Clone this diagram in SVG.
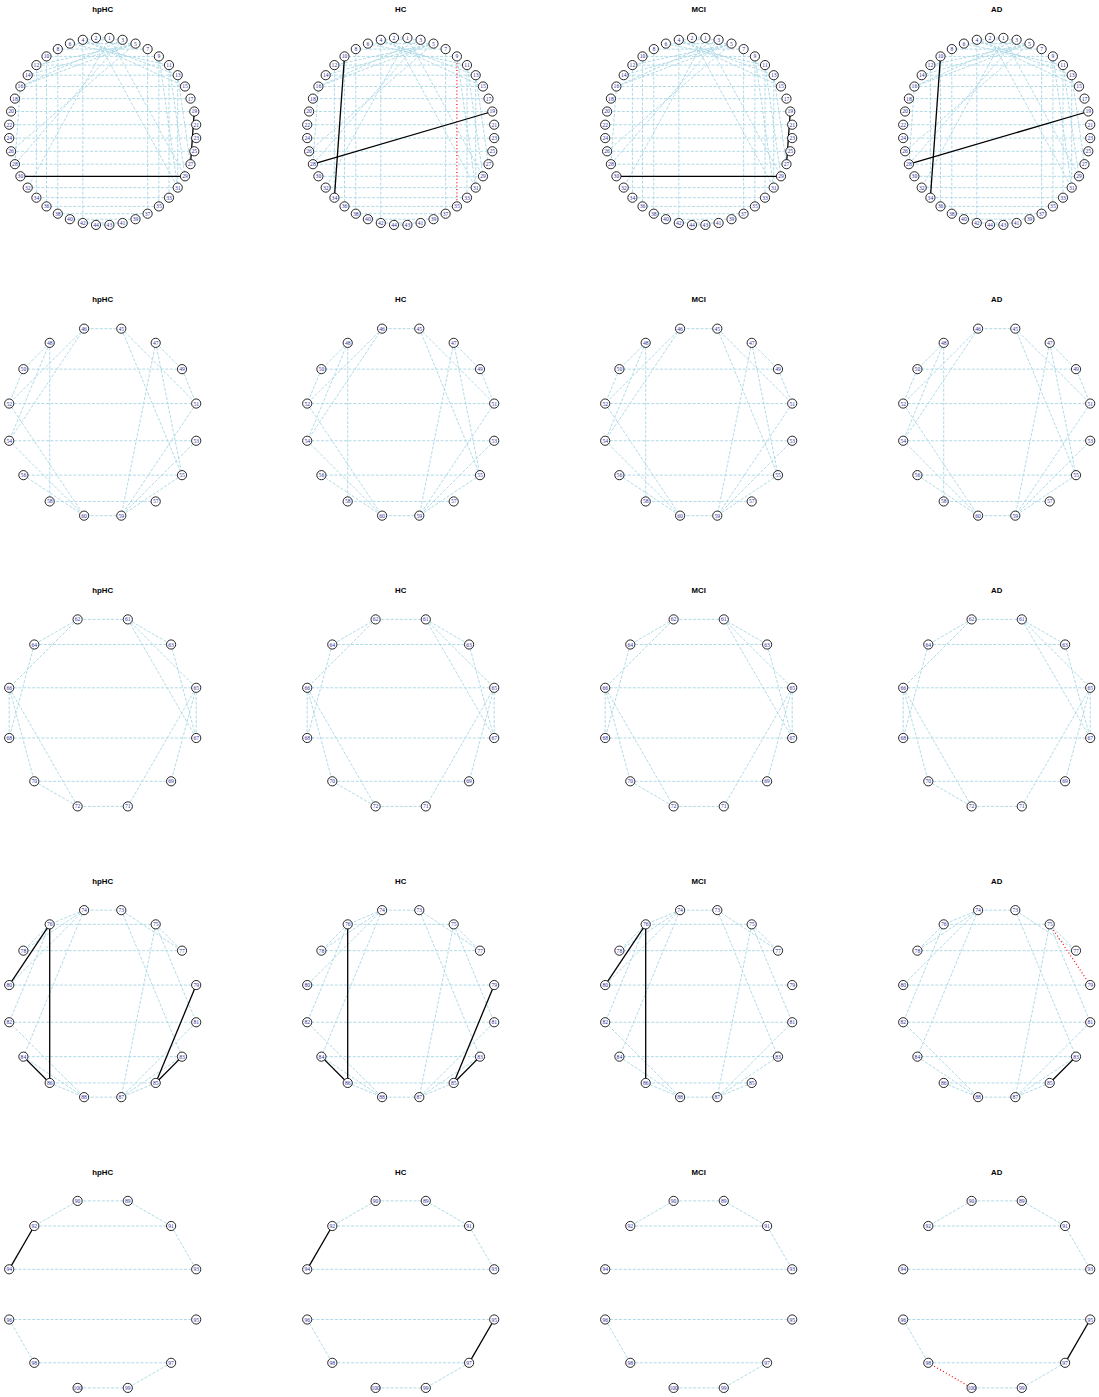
<svg xmlns="http://www.w3.org/2000/svg" width="1099" height="1397" viewBox="0 0 1099 1397">
<style>
.d line,line.d{stroke:#a7d6e4;stroke-width:0.9;stroke-dasharray:3 1.6;fill:none}
.b{stroke:#000;stroke-width:1.3}
.r{stroke:#f00;stroke-width:1.2;stroke-dasharray:1 2.4}
.n circle{fill:#fff;stroke:#000;stroke-width:0.85}
.n text{font-family:"Liberation Serif","DejaVu Serif",serif;font-size:5.6px;fill:#2b2b9a;text-anchor:middle;dominant-baseline:central}
.t{font-family:"Liberation Sans",Arial,sans-serif;font-weight:bold;font-size:7.8px;text-anchor:middle;fill:#000}
</style>
<rect width="1099" height="1397" fill="#fff"/>
<defs>
<g id="E1" class="d">
<line x1="6.7" y1="-93.5" x2="-6.7" y2="-93.5"/><line x1="19.9" y1="-91.6" x2="-19.9" y2="-91.6"/><line x1="32.8" y1="-87.8" x2="-32.8" y2="-87.8"/><line x1="44.9" y1="-82.3" x2="-44.9" y2="-82.3"/><line x1="56.2" y1="-75" x2="-56.2" y2="-75"/><line x1="66.3" y1="-66.3" x2="-66.3" y2="-66.3"/><line x1="75" y1="-56.2" x2="-75" y2="-56.2"/><line x1="82.3" y1="-44.9" x2="-82.3" y2="-44.9"/><line x1="87.8" y1="-32.8" x2="-87.8" y2="-32.8"/><line x1="91.6" y1="-19.9" x2="-91.6" y2="-19.9"/><line x1="93.5" y1="-6.7" x2="-93.5" y2="-6.7"/><line x1="93.5" y1="6.7" x2="-93.5" y2="6.7"/><line x1="91.6" y1="19.9" x2="-91.6" y2="19.9"/><line x1="87.8" y1="32.8" x2="-87.8" y2="32.8"/><line x1="75" y1="56.2" x2="-75" y2="56.2"/><line x1="66.3" y1="66.3" x2="-66.3" y2="66.3"/><line x1="56.2" y1="75" x2="-56.2" y2="75"/><line x1="44.9" y1="82.3" x2="-44.9" y2="82.3"/><line x1="32.8" y1="87.8" x2="-32.8" y2="87.8"/><line x1="19.9" y1="91.6" x2="-19.9" y2="91.6"/><line x1="6.7" y1="93.5" x2="-6.7" y2="93.5"/>
<line x1="-19.9" y1="-91.6" x2="-19.9" y2="91.6"/><line x1="-44.9" y1="-82.3" x2="-44.9" y2="82.3"/><line x1="-56.2" y1="-75" x2="-56.2" y2="75"/><line x1="-66.3" y1="-66.3" x2="-66.3" y2="66.3"/><line x1="44.9" y1="-82.3" x2="44.9" y2="82.3"/><line x1="66.3" y1="-66.3" x2="66.3" y2="66.3"/><line x1="75" y1="-56.2" x2="75" y2="56.2"/>
<line x1="-6.7" y1="-93.5" x2="75" y2="56.2"/><line x1="6.7" y1="-93.5" x2="82.3" y2="44.9"/><line x1="19.9" y1="-91.6" x2="-87.8" y2="32.8"/><line x1="32.8" y1="-87.8" x2="-91.6" y2="19.9"/><line x1="6.7" y1="-93.5" x2="-75" y2="56.2"/><line x1="19.9" y1="-91.6" x2="-82.3" y2="-44.9"/><line x1="32.8" y1="-87.8" x2="-82.3" y2="-44.9"/><line x1="32.8" y1="-87.8" x2="-75" y2="-56.2"/><line x1="32.8" y1="-87.8" x2="-66.3" y2="-66.3"/><line x1="-19.9" y1="-91.6" x2="75" y2="-56.2"/><line x1="-19.9" y1="-91.6" x2="82.3" y2="-44.9"/><line x1="-32.8" y1="-87.8" x2="66.3" y2="-66.3"/><line x1="56.2" y1="-75" x2="75" y2="56.2"/><line x1="66.3" y1="-66.3" x2="82.3" y2="44.9"/><line x1="75" y1="-56.2" x2="87.8" y2="32.8"/><line x1="-82.3" y1="-44.9" x2="-87.8" y2="32.8"/>
</g>
<g id="E2" class="d">
<line x1="18.6" y1="-93.5" x2="-18.6" y2="-93.5"/><line x1="79.3" y1="-53" x2="-79.3" y2="-53"/><line x1="93.5" y1="-18.6" x2="-93.5" y2="-18.6"/><line x1="93.5" y1="18.6" x2="-93.5" y2="18.6"/><line x1="79.3" y1="53" x2="-79.3" y2="53"/><line x1="53" y1="79.3" x2="-53" y2="79.3"/><line x1="18.6" y1="93.5" x2="-18.6" y2="93.5"/>
<line x1="18.6" y1="-93.5" x2="93.5" y2="-18.6"/><line x1="18.6" y1="-93.5" x2="79.3" y2="53"/><line x1="53" y1="-79.3" x2="79.3" y2="-53"/><line x1="53" y1="-79.3" x2="79.3" y2="53"/><line x1="53" y1="-79.3" x2="18.6" y2="93.5"/><line x1="79.3" y1="-53" x2="93.5" y2="-18.6"/><line x1="93.5" y1="-18.6" x2="18.6" y2="93.5"/><line x1="93.5" y1="18.6" x2="18.6" y2="93.5"/><line x1="79.3" y1="53" x2="18.6" y2="93.5"/>
<line x1="-18.6" y1="-93.5" x2="-93.5" y2="-18.6"/><line x1="-18.6" y1="-93.5" x2="-93.5" y2="18.6"/><line x1="-53" y1="-79.3" x2="-79.3" y2="-53"/><line x1="-53" y1="-79.3" x2="-93.5" y2="18.6"/><line x1="-53" y1="-79.3" x2="-53" y2="79.3"/><line x1="-79.3" y1="-53" x2="-93.5" y2="-18.6"/><line x1="-93.5" y1="-18.6" x2="-18.6" y2="93.5"/><line x1="-93.5" y1="18.6" x2="-18.6" y2="93.5"/><line x1="-79.3" y1="53" x2="-18.6" y2="93.5"/>
</g>
<g id="E3" class="d">
<line x1="25.1" y1="-93.5" x2="-25.1" y2="-93.5"/><line x1="25.1" y1="-93.5" x2="68.4" y2="-68.4"/><line x1="25.1" y1="-93.5" x2="93.5" y2="-25.1"/><line x1="25.1" y1="-93.5" x2="93.5" y2="25.1"/><line x1="-25.1" y1="-93.5" x2="-68.4" y2="-68.4"/><line x1="-25.1" y1="-93.5" x2="-93.5" y2="-25.1"/><line x1="68.4" y1="-68.4" x2="-68.4" y2="-68.4"/><line x1="68.4" y1="-68.4" x2="93.5" y2="25.1"/><line x1="-68.4" y1="-68.4" x2="-93.5" y2="25.1"/><line x1="93.5" y1="-25.1" x2="-93.5" y2="-25.1"/><line x1="93.5" y1="-25.1" x2="93.5" y2="25.1"/><line x1="93.5" y1="-25.1" x2="68.4" y2="68.4"/><line x1="93.5" y1="-25.1" x2="25.1" y2="93.5"/><line x1="-93.5" y1="-25.1" x2="-93.5" y2="25.1"/><line x1="-93.5" y1="-25.1" x2="-68.4" y2="68.4"/><line x1="-93.5" y1="-25.1" x2="-25.1" y2="93.5"/><line x1="93.5" y1="25.1" x2="-93.5" y2="25.1"/><line x1="68.4" y1="68.4" x2="-68.4" y2="68.4"/><line x1="-68.4" y1="68.4" x2="-25.1" y2="93.5"/><line x1="25.1" y1="93.5" x2="-25.1" y2="93.5"/>
</g>
<g id="E4" class="d">
<line x1="18.6" y1="-93.5" x2="-18.6" y2="-93.5"/><line x1="53" y1="-79.3" x2="-53" y2="-79.3"/><line x1="79.3" y1="-53" x2="-79.3" y2="-53"/><line x1="93.5" y1="-18.6" x2="-93.5" y2="-18.6"/><line x1="93.5" y1="18.6" x2="-93.5" y2="18.6"/><line x1="79.3" y1="53" x2="-79.3" y2="53"/><line x1="53" y1="79.3" x2="-53" y2="79.3"/><line x1="18.6" y1="93.5" x2="-18.6" y2="93.5"/>
<line x1="-18.6" y1="-93.5" x2="-53" y2="-79.3"/><line x1="-18.6" y1="-93.5" x2="-79.3" y2="-53"/><line x1="-18.6" y1="-93.5" x2="-93.5" y2="-18.6"/><line x1="-18.6" y1="-93.5" x2="-79.3" y2="53"/><line x1="-53" y1="-79.3" x2="-79.3" y2="-53"/><line x1="-53" y1="-79.3" x2="-93.5" y2="18.6"/>
<line x1="18.6" y1="-93.5" x2="79.3" y2="-53"/><line x1="53" y1="-79.3" x2="79.3" y2="-53"/><line x1="18.6" y1="-93.5" x2="79.3" y2="53"/><line x1="53" y1="-79.3" x2="18.6" y2="93.5"/><line x1="53" y1="-79.3" x2="93.5" y2="18.6"/><line x1="93.5" y1="18.6" x2="18.6" y2="93.5"/><line x1="79.3" y1="53" x2="18.6" y2="93.5"/><line x1="53" y1="79.3" x2="18.6" y2="93.5"/>
<line x1="-93.5" y1="18.6" x2="-18.6" y2="93.5"/><line x1="-79.3" y1="53" x2="-18.6" y2="93.5"/><line x1="-53" y1="79.3" x2="-18.6" y2="93.5"/>
</g>
<g id="E5" class="d">
<line x1="25.1" y1="-93.5" x2="-25.1" y2="-93.5"/><line x1="25.1" y1="-93.5" x2="68.4" y2="-68.4"/><line x1="-25.1" y1="-93.5" x2="-68.4" y2="-68.4"/><line x1="68.4" y1="-68.4" x2="-68.4" y2="-68.4"/><line x1="68.4" y1="-68.4" x2="93.5" y2="-25.1"/><line x1="93.5" y1="-25.1" x2="-93.5" y2="-25.1"/><line x1="93.5" y1="25.1" x2="-93.5" y2="25.1"/><line x1="-93.5" y1="25.1" x2="-68.4" y2="68.4"/><line x1="68.4" y1="68.4" x2="-68.4" y2="68.4"/><line x1="68.4" y1="68.4" x2="25.1" y2="93.5"/><line x1="25.1" y1="93.5" x2="-25.1" y2="93.5"/>
</g>
</defs>

<!-- ROW 1 -->
<g id="p11" transform="translate(102.7,131.4)">
<text class="t" y="-119.8">hpHC</text>
<g id="p11-edges"><use href="#E1"/><line class="d" x1="56.2" y1="-75" x2="56.2" y2="75"/><line class="b" x1="82.3" y1="44.9" x2="-82.3" y2="44.9"/><line class="b" x1="91.6" y1="-19.9" x2="87.8" y2="32.8"/></g>
<g class="n">
<g id="p11-1" transform="translate(6.7,-93.5)"><circle r="4.6"/><text>1</text></g><g id="p11-2" transform="translate(-6.7,-93.5)"><circle r="4.6"/><text>2</text></g><g id="p11-3" transform="translate(19.9,-91.6)"><circle r="4.6"/><text>3</text></g><g id="p11-4" transform="translate(-19.9,-91.6)"><circle r="4.6"/><text>4</text></g><g id="p11-5" transform="translate(32.8,-87.8)"><circle r="4.6"/><text>5</text></g><g id="p11-6" transform="translate(-32.8,-87.8)"><circle r="4.6"/><text>6</text></g><g id="p11-7" transform="translate(44.9,-82.3)"><circle r="4.6"/><text>7</text></g><g id="p11-8" transform="translate(-44.9,-82.3)"><circle r="4.6"/><text>8</text></g><g id="p11-9" transform="translate(56.2,-75)"><circle r="4.6"/><text>9</text></g><g id="p11-10" transform="translate(-56.2,-75)"><circle r="4.6"/><text>10</text></g><g id="p11-11" transform="translate(66.3,-66.3)"><circle r="4.6"/><text>11</text></g><g id="p11-12" transform="translate(-66.3,-66.3)"><circle r="4.6"/><text>12</text></g><g id="p11-13" transform="translate(75,-56.2)"><circle r="4.6"/><text>13</text></g><g id="p11-14" transform="translate(-75,-56.2)"><circle r="4.6"/><text>14</text></g><g id="p11-15" transform="translate(82.3,-44.9)"><circle r="4.6"/><text>15</text></g><g id="p11-16" transform="translate(-82.3,-44.9)"><circle r="4.6"/><text>16</text></g><g id="p11-17" transform="translate(87.8,-32.8)"><circle r="4.6"/><text>17</text></g><g id="p11-18" transform="translate(-87.8,-32.8)"><circle r="4.6"/><text>18</text></g><g id="p11-19" transform="translate(91.6,-19.9)"><circle r="4.6"/><text>19</text></g><g id="p11-20" transform="translate(-91.6,-19.9)"><circle r="4.6"/><text>20</text></g><g id="p11-21" transform="translate(93.5,-6.7)"><circle r="4.6"/><text>21</text></g><g id="p11-22" transform="translate(-93.5,-6.7)"><circle r="4.6"/><text>22</text></g><g id="p11-23" transform="translate(93.5,6.7)"><circle r="4.6"/><text>23</text></g><g id="p11-24" transform="translate(-93.5,6.7)"><circle r="4.6"/><text>24</text></g><g id="p11-25" transform="translate(91.6,19.9)"><circle r="4.6"/><text>25</text></g><g id="p11-26" transform="translate(-91.6,19.9)"><circle r="4.6"/><text>26</text></g><g id="p11-27" transform="translate(87.8,32.8)"><circle r="4.6"/><text>27</text></g><g id="p11-28" transform="translate(-87.8,32.8)"><circle r="4.6"/><text>28</text></g><g id="p11-29" transform="translate(82.3,44.9)"><circle r="4.6"/><text>29</text></g><g id="p11-30" transform="translate(-82.3,44.9)"><circle r="4.6"/><text>30</text></g><g id="p11-31" transform="translate(75,56.2)"><circle r="4.6"/><text>31</text></g><g id="p11-32" transform="translate(-75,56.2)"><circle r="4.6"/><text>32</text></g><g id="p11-33" transform="translate(66.3,66.3)"><circle r="4.6"/><text>33</text></g><g id="p11-34" transform="translate(-66.3,66.3)"><circle r="4.6"/><text>34</text></g><g id="p11-35" transform="translate(56.2,75)"><circle r="4.6"/><text>35</text></g><g id="p11-36" transform="translate(-56.2,75)"><circle r="4.6"/><text>36</text></g><g id="p11-37" transform="translate(44.9,82.3)"><circle r="4.6"/><text>37</text></g><g id="p11-38" transform="translate(-44.9,82.3)"><circle r="4.6"/><text>38</text></g><g id="p11-39" transform="translate(32.8,87.8)"><circle r="4.6"/><text>39</text></g><g id="p11-40" transform="translate(-32.8,87.8)"><circle r="4.6"/><text>40</text></g><g id="p11-41" transform="translate(19.9,91.6)"><circle r="4.6"/><text>41</text></g><g id="p11-42" transform="translate(-19.9,91.6)"><circle r="4.6"/><text>42</text></g><g id="p11-43" transform="translate(6.7,93.5)"><circle r="4.6"/><text>43</text></g><g id="p11-44" transform="translate(-6.7,93.5)"><circle r="4.6"/><text>44</text></g>
</g></g>

<g id="p12" transform="translate(400.7,131.4)">
<text class="t" y="-119.8">HC</text>
<g id="p12-edges"><use href="#E1"/><line class="d" x1="82.3" y1="44.9" x2="-82.3" y2="44.9"/><line class="r" x1="56.2" y1="-75" x2="56.2" y2="75"/><line class="b" x1="-56.2" y1="-75" x2="-66.3" y2="66.3"/><line class="b" x1="91.6" y1="-19.9" x2="-87.8" y2="32.8"/></g>
<g class="n">
<g id="p12-1" transform="translate(6.7,-93.5)"><circle r="4.6"/><text>1</text></g><g id="p12-2" transform="translate(-6.7,-93.5)"><circle r="4.6"/><text>2</text></g><g id="p12-3" transform="translate(19.9,-91.6)"><circle r="4.6"/><text>3</text></g><g id="p12-4" transform="translate(-19.9,-91.6)"><circle r="4.6"/><text>4</text></g><g id="p12-5" transform="translate(32.8,-87.8)"><circle r="4.6"/><text>5</text></g><g id="p12-6" transform="translate(-32.8,-87.8)"><circle r="4.6"/><text>6</text></g><g id="p12-7" transform="translate(44.9,-82.3)"><circle r="4.6"/><text>7</text></g><g id="p12-8" transform="translate(-44.9,-82.3)"><circle r="4.6"/><text>8</text></g><g id="p12-9" transform="translate(56.2,-75)"><circle r="4.6"/><text>9</text></g><g id="p12-10" transform="translate(-56.2,-75)"><circle r="4.6"/><text>10</text></g><g id="p12-11" transform="translate(66.3,-66.3)"><circle r="4.6"/><text>11</text></g><g id="p12-12" transform="translate(-66.3,-66.3)"><circle r="4.6"/><text>12</text></g><g id="p12-13" transform="translate(75,-56.2)"><circle r="4.6"/><text>13</text></g><g id="p12-14" transform="translate(-75,-56.2)"><circle r="4.6"/><text>14</text></g><g id="p12-15" transform="translate(82.3,-44.9)"><circle r="4.6"/><text>15</text></g><g id="p12-16" transform="translate(-82.3,-44.9)"><circle r="4.6"/><text>16</text></g><g id="p12-17" transform="translate(87.8,-32.8)"><circle r="4.6"/><text>17</text></g><g id="p12-18" transform="translate(-87.8,-32.8)"><circle r="4.6"/><text>18</text></g><g id="p12-19" transform="translate(91.6,-19.9)"><circle r="4.6"/><text>19</text></g><g id="p12-20" transform="translate(-91.6,-19.9)"><circle r="4.6"/><text>20</text></g><g id="p12-21" transform="translate(93.5,-6.7)"><circle r="4.6"/><text>21</text></g><g id="p12-22" transform="translate(-93.5,-6.7)"><circle r="4.6"/><text>22</text></g><g id="p12-23" transform="translate(93.5,6.7)"><circle r="4.6"/><text>23</text></g><g id="p12-24" transform="translate(-93.5,6.7)"><circle r="4.6"/><text>24</text></g><g id="p12-25" transform="translate(91.6,19.9)"><circle r="4.6"/><text>25</text></g><g id="p12-26" transform="translate(-91.6,19.9)"><circle r="4.6"/><text>26</text></g><g id="p12-27" transform="translate(87.8,32.8)"><circle r="4.6"/><text>27</text></g><g id="p12-28" transform="translate(-87.8,32.8)"><circle r="4.6"/><text>28</text></g><g id="p12-29" transform="translate(82.3,44.9)"><circle r="4.6"/><text>29</text></g><g id="p12-30" transform="translate(-82.3,44.9)"><circle r="4.6"/><text>30</text></g><g id="p12-31" transform="translate(75,56.2)"><circle r="4.6"/><text>31</text></g><g id="p12-32" transform="translate(-75,56.2)"><circle r="4.6"/><text>32</text></g><g id="p12-33" transform="translate(66.3,66.3)"><circle r="4.6"/><text>33</text></g><g id="p12-34" transform="translate(-66.3,66.3)"><circle r="4.6"/><text>34</text></g><g id="p12-35" transform="translate(56.2,75)"><circle r="4.6"/><text>35</text></g><g id="p12-36" transform="translate(-56.2,75)"><circle r="4.6"/><text>36</text></g><g id="p12-37" transform="translate(44.9,82.3)"><circle r="4.6"/><text>37</text></g><g id="p12-38" transform="translate(-44.9,82.3)"><circle r="4.6"/><text>38</text></g><g id="p12-39" transform="translate(32.8,87.8)"><circle r="4.6"/><text>39</text></g><g id="p12-40" transform="translate(-32.8,87.8)"><circle r="4.6"/><text>40</text></g><g id="p12-41" transform="translate(19.9,91.6)"><circle r="4.6"/><text>41</text></g><g id="p12-42" transform="translate(-19.9,91.6)"><circle r="4.6"/><text>42</text></g><g id="p12-43" transform="translate(6.7,93.5)"><circle r="4.6"/><text>43</text></g><g id="p12-44" transform="translate(-6.7,93.5)"><circle r="4.6"/><text>44</text></g>
</g></g>

<g id="p13" transform="translate(698.7,131.4)">
<text class="t" y="-119.8">MCI</text>
<g id="p13-edges"><use href="#E1"/><line class="d" x1="56.2" y1="-75" x2="56.2" y2="75"/><line class="b" x1="82.3" y1="44.9" x2="-82.3" y2="44.9"/><line class="b" x1="91.6" y1="-19.9" x2="87.8" y2="32.8"/></g>
<g class="n">
<g id="p13-1" transform="translate(6.7,-93.5)"><circle r="4.6"/><text>1</text></g><g id="p13-2" transform="translate(-6.7,-93.5)"><circle r="4.6"/><text>2</text></g><g id="p13-3" transform="translate(19.9,-91.6)"><circle r="4.6"/><text>3</text></g><g id="p13-4" transform="translate(-19.9,-91.6)"><circle r="4.6"/><text>4</text></g><g id="p13-5" transform="translate(32.8,-87.8)"><circle r="4.6"/><text>5</text></g><g id="p13-6" transform="translate(-32.8,-87.8)"><circle r="4.6"/><text>6</text></g><g id="p13-7" transform="translate(44.9,-82.3)"><circle r="4.6"/><text>7</text></g><g id="p13-8" transform="translate(-44.9,-82.3)"><circle r="4.6"/><text>8</text></g><g id="p13-9" transform="translate(56.2,-75)"><circle r="4.6"/><text>9</text></g><g id="p13-10" transform="translate(-56.2,-75)"><circle r="4.6"/><text>10</text></g><g id="p13-11" transform="translate(66.3,-66.3)"><circle r="4.6"/><text>11</text></g><g id="p13-12" transform="translate(-66.3,-66.3)"><circle r="4.6"/><text>12</text></g><g id="p13-13" transform="translate(75,-56.2)"><circle r="4.6"/><text>13</text></g><g id="p13-14" transform="translate(-75,-56.2)"><circle r="4.6"/><text>14</text></g><g id="p13-15" transform="translate(82.3,-44.9)"><circle r="4.6"/><text>15</text></g><g id="p13-16" transform="translate(-82.3,-44.9)"><circle r="4.6"/><text>16</text></g><g id="p13-17" transform="translate(87.8,-32.8)"><circle r="4.6"/><text>17</text></g><g id="p13-18" transform="translate(-87.8,-32.8)"><circle r="4.6"/><text>18</text></g><g id="p13-19" transform="translate(91.6,-19.9)"><circle r="4.6"/><text>19</text></g><g id="p13-20" transform="translate(-91.6,-19.9)"><circle r="4.6"/><text>20</text></g><g id="p13-21" transform="translate(93.5,-6.7)"><circle r="4.6"/><text>21</text></g><g id="p13-22" transform="translate(-93.5,-6.7)"><circle r="4.6"/><text>22</text></g><g id="p13-23" transform="translate(93.5,6.7)"><circle r="4.6"/><text>23</text></g><g id="p13-24" transform="translate(-93.5,6.7)"><circle r="4.6"/><text>24</text></g><g id="p13-25" transform="translate(91.6,19.9)"><circle r="4.6"/><text>25</text></g><g id="p13-26" transform="translate(-91.6,19.9)"><circle r="4.6"/><text>26</text></g><g id="p13-27" transform="translate(87.8,32.8)"><circle r="4.6"/><text>27</text></g><g id="p13-28" transform="translate(-87.8,32.8)"><circle r="4.6"/><text>28</text></g><g id="p13-29" transform="translate(82.3,44.9)"><circle r="4.6"/><text>29</text></g><g id="p13-30" transform="translate(-82.3,44.9)"><circle r="4.6"/><text>30</text></g><g id="p13-31" transform="translate(75,56.2)"><circle r="4.6"/><text>31</text></g><g id="p13-32" transform="translate(-75,56.2)"><circle r="4.6"/><text>32</text></g><g id="p13-33" transform="translate(66.3,66.3)"><circle r="4.6"/><text>33</text></g><g id="p13-34" transform="translate(-66.3,66.3)"><circle r="4.6"/><text>34</text></g><g id="p13-35" transform="translate(56.2,75)"><circle r="4.6"/><text>35</text></g><g id="p13-36" transform="translate(-56.2,75)"><circle r="4.6"/><text>36</text></g><g id="p13-37" transform="translate(44.9,82.3)"><circle r="4.6"/><text>37</text></g><g id="p13-38" transform="translate(-44.9,82.3)"><circle r="4.6"/><text>38</text></g><g id="p13-39" transform="translate(32.8,87.8)"><circle r="4.6"/><text>39</text></g><g id="p13-40" transform="translate(-32.8,87.8)"><circle r="4.6"/><text>40</text></g><g id="p13-41" transform="translate(19.9,91.6)"><circle r="4.6"/><text>41</text></g><g id="p13-42" transform="translate(-19.9,91.6)"><circle r="4.6"/><text>42</text></g><g id="p13-43" transform="translate(6.7,93.5)"><circle r="4.6"/><text>43</text></g><g id="p13-44" transform="translate(-6.7,93.5)"><circle r="4.6"/><text>44</text></g>
</g></g>

<g id="p14" transform="translate(996.7,131.4)">
<text class="t" y="-119.8">AD</text>
<g id="p14-edges"><use href="#E1"/><line class="d" x1="56.2" y1="-75" x2="56.2" y2="75"/><line class="d" x1="82.3" y1="44.9" x2="-82.3" y2="44.9"/><line class="b" x1="-56.2" y1="-75" x2="-66.3" y2="66.3"/><line class="b" x1="91.6" y1="-19.9" x2="-87.8" y2="32.8"/></g>
<g class="n">
<g id="p14-1" transform="translate(6.7,-93.5)"><circle r="4.6"/><text>1</text></g><g id="p14-2" transform="translate(-6.7,-93.5)"><circle r="4.6"/><text>2</text></g><g id="p14-3" transform="translate(19.9,-91.6)"><circle r="4.6"/><text>3</text></g><g id="p14-4" transform="translate(-19.9,-91.6)"><circle r="4.6"/><text>4</text></g><g id="p14-5" transform="translate(32.8,-87.8)"><circle r="4.6"/><text>5</text></g><g id="p14-6" transform="translate(-32.8,-87.8)"><circle r="4.6"/><text>6</text></g><g id="p14-7" transform="translate(44.9,-82.3)"><circle r="4.6"/><text>7</text></g><g id="p14-8" transform="translate(-44.9,-82.3)"><circle r="4.6"/><text>8</text></g><g id="p14-9" transform="translate(56.2,-75)"><circle r="4.6"/><text>9</text></g><g id="p14-10" transform="translate(-56.2,-75)"><circle r="4.6"/><text>10</text></g><g id="p14-11" transform="translate(66.3,-66.3)"><circle r="4.6"/><text>11</text></g><g id="p14-12" transform="translate(-66.3,-66.3)"><circle r="4.6"/><text>12</text></g><g id="p14-13" transform="translate(75,-56.2)"><circle r="4.6"/><text>13</text></g><g id="p14-14" transform="translate(-75,-56.2)"><circle r="4.6"/><text>14</text></g><g id="p14-15" transform="translate(82.3,-44.9)"><circle r="4.6"/><text>15</text></g><g id="p14-16" transform="translate(-82.3,-44.9)"><circle r="4.6"/><text>16</text></g><g id="p14-17" transform="translate(87.8,-32.8)"><circle r="4.6"/><text>17</text></g><g id="p14-18" transform="translate(-87.8,-32.8)"><circle r="4.6"/><text>18</text></g><g id="p14-19" transform="translate(91.6,-19.9)"><circle r="4.6"/><text>19</text></g><g id="p14-20" transform="translate(-91.6,-19.9)"><circle r="4.6"/><text>20</text></g><g id="p14-21" transform="translate(93.5,-6.7)"><circle r="4.6"/><text>21</text></g><g id="p14-22" transform="translate(-93.5,-6.7)"><circle r="4.6"/><text>22</text></g><g id="p14-23" transform="translate(93.5,6.7)"><circle r="4.6"/><text>23</text></g><g id="p14-24" transform="translate(-93.5,6.7)"><circle r="4.6"/><text>24</text></g><g id="p14-25" transform="translate(91.6,19.9)"><circle r="4.6"/><text>25</text></g><g id="p14-26" transform="translate(-91.6,19.9)"><circle r="4.6"/><text>26</text></g><g id="p14-27" transform="translate(87.8,32.8)"><circle r="4.6"/><text>27</text></g><g id="p14-28" transform="translate(-87.8,32.8)"><circle r="4.6"/><text>28</text></g><g id="p14-29" transform="translate(82.3,44.9)"><circle r="4.6"/><text>29</text></g><g id="p14-30" transform="translate(-82.3,44.9)"><circle r="4.6"/><text>30</text></g><g id="p14-31" transform="translate(75,56.2)"><circle r="4.6"/><text>31</text></g><g id="p14-32" transform="translate(-75,56.2)"><circle r="4.6"/><text>32</text></g><g id="p14-33" transform="translate(66.3,66.3)"><circle r="4.6"/><text>33</text></g><g id="p14-34" transform="translate(-66.3,66.3)"><circle r="4.6"/><text>34</text></g><g id="p14-35" transform="translate(56.2,75)"><circle r="4.6"/><text>35</text></g><g id="p14-36" transform="translate(-56.2,75)"><circle r="4.6"/><text>36</text></g><g id="p14-37" transform="translate(44.9,82.3)"><circle r="4.6"/><text>37</text></g><g id="p14-38" transform="translate(-44.9,82.3)"><circle r="4.6"/><text>38</text></g><g id="p14-39" transform="translate(32.8,87.8)"><circle r="4.6"/><text>39</text></g><g id="p14-40" transform="translate(-32.8,87.8)"><circle r="4.6"/><text>40</text></g><g id="p14-41" transform="translate(19.9,91.6)"><circle r="4.6"/><text>41</text></g><g id="p14-42" transform="translate(-19.9,91.6)"><circle r="4.6"/><text>42</text></g><g id="p14-43" transform="translate(6.7,93.5)"><circle r="4.6"/><text>43</text></g><g id="p14-44" transform="translate(-6.7,93.5)"><circle r="4.6"/><text>44</text></g>
</g></g>

<!-- ROW 2 -->
<g id="p21" transform="translate(102.7,422.15)">
<text class="t" y="-119.8">hpHC</text>
<g id="p21-edges"><use href="#E2"/></g>
<g class="n">
<g id="p21-45" transform="translate(18.6,-93.5)"><circle r="4.6"/><text>45</text></g><g id="p21-46" transform="translate(-18.6,-93.5)"><circle r="4.6"/><text>46</text></g><g id="p21-47" transform="translate(53,-79.3)"><circle r="4.6"/><text>47</text></g><g id="p21-48" transform="translate(-53,-79.3)"><circle r="4.6"/><text>48</text></g><g id="p21-49" transform="translate(79.3,-53)"><circle r="4.6"/><text>49</text></g><g id="p21-50" transform="translate(-79.3,-53)"><circle r="4.6"/><text>50</text></g><g id="p21-51" transform="translate(93.5,-18.6)"><circle r="4.6"/><text>51</text></g><g id="p21-52" transform="translate(-93.5,-18.6)"><circle r="4.6"/><text>52</text></g><g id="p21-53" transform="translate(93.5,18.6)"><circle r="4.6"/><text>53</text></g><g id="p21-54" transform="translate(-93.5,18.6)"><circle r="4.6"/><text>54</text></g><g id="p21-55" transform="translate(79.3,53)"><circle r="4.6"/><text>55</text></g><g id="p21-56" transform="translate(-79.3,53)"><circle r="4.6"/><text>56</text></g><g id="p21-57" transform="translate(53,79.3)"><circle r="4.6"/><text>57</text></g><g id="p21-58" transform="translate(-53,79.3)"><circle r="4.6"/><text>58</text></g><g id="p21-59" transform="translate(18.6,93.5)"><circle r="4.6"/><text>59</text></g><g id="p21-60" transform="translate(-18.6,93.5)"><circle r="4.6"/><text>60</text></g>
</g></g>
<g id="p22" transform="translate(400.7,422.15)">
<text class="t" y="-119.8">HC</text>
<g id="p22-edges"><use href="#E2"/></g>
<g class="n">
<g id="p22-45" transform="translate(18.6,-93.5)"><circle r="4.6"/><text>45</text></g><g id="p22-46" transform="translate(-18.6,-93.5)"><circle r="4.6"/><text>46</text></g><g id="p22-47" transform="translate(53,-79.3)"><circle r="4.6"/><text>47</text></g><g id="p22-48" transform="translate(-53,-79.3)"><circle r="4.6"/><text>48</text></g><g id="p22-49" transform="translate(79.3,-53)"><circle r="4.6"/><text>49</text></g><g id="p22-50" transform="translate(-79.3,-53)"><circle r="4.6"/><text>50</text></g><g id="p22-51" transform="translate(93.5,-18.6)"><circle r="4.6"/><text>51</text></g><g id="p22-52" transform="translate(-93.5,-18.6)"><circle r="4.6"/><text>52</text></g><g id="p22-53" transform="translate(93.5,18.6)"><circle r="4.6"/><text>53</text></g><g id="p22-54" transform="translate(-93.5,18.6)"><circle r="4.6"/><text>54</text></g><g id="p22-55" transform="translate(79.3,53)"><circle r="4.6"/><text>55</text></g><g id="p22-56" transform="translate(-79.3,53)"><circle r="4.6"/><text>56</text></g><g id="p22-57" transform="translate(53,79.3)"><circle r="4.6"/><text>57</text></g><g id="p22-58" transform="translate(-53,79.3)"><circle r="4.6"/><text>58</text></g><g id="p22-59" transform="translate(18.6,93.5)"><circle r="4.6"/><text>59</text></g><g id="p22-60" transform="translate(-18.6,93.5)"><circle r="4.6"/><text>60</text></g>
</g></g>
<g id="p23" transform="translate(698.7,422.15)">
<text class="t" y="-119.8">MCI</text>
<g id="p23-edges"><use href="#E2"/></g>
<g class="n">
<g id="p23-45" transform="translate(18.6,-93.5)"><circle r="4.6"/><text>45</text></g><g id="p23-46" transform="translate(-18.6,-93.5)"><circle r="4.6"/><text>46</text></g><g id="p23-47" transform="translate(53,-79.3)"><circle r="4.6"/><text>47</text></g><g id="p23-48" transform="translate(-53,-79.3)"><circle r="4.6"/><text>48</text></g><g id="p23-49" transform="translate(79.3,-53)"><circle r="4.6"/><text>49</text></g><g id="p23-50" transform="translate(-79.3,-53)"><circle r="4.6"/><text>50</text></g><g id="p23-51" transform="translate(93.5,-18.6)"><circle r="4.6"/><text>51</text></g><g id="p23-52" transform="translate(-93.5,-18.6)"><circle r="4.6"/><text>52</text></g><g id="p23-53" transform="translate(93.5,18.6)"><circle r="4.6"/><text>53</text></g><g id="p23-54" transform="translate(-93.5,18.6)"><circle r="4.6"/><text>54</text></g><g id="p23-55" transform="translate(79.3,53)"><circle r="4.6"/><text>55</text></g><g id="p23-56" transform="translate(-79.3,53)"><circle r="4.6"/><text>56</text></g><g id="p23-57" transform="translate(53,79.3)"><circle r="4.6"/><text>57</text></g><g id="p23-58" transform="translate(-53,79.3)"><circle r="4.6"/><text>58</text></g><g id="p23-59" transform="translate(18.6,93.5)"><circle r="4.6"/><text>59</text></g><g id="p23-60" transform="translate(-18.6,93.5)"><circle r="4.6"/><text>60</text></g>
</g></g>
<g id="p24" transform="translate(996.7,422.15)">
<text class="t" y="-119.8">AD</text>
<g id="p24-edges"><use href="#E2"/></g>
<g class="n">
<g id="p24-45" transform="translate(18.6,-93.5)"><circle r="4.6"/><text>45</text></g><g id="p24-46" transform="translate(-18.6,-93.5)"><circle r="4.6"/><text>46</text></g><g id="p24-47" transform="translate(53,-79.3)"><circle r="4.6"/><text>47</text></g><g id="p24-48" transform="translate(-53,-79.3)"><circle r="4.6"/><text>48</text></g><g id="p24-49" transform="translate(79.3,-53)"><circle r="4.6"/><text>49</text></g><g id="p24-50" transform="translate(-79.3,-53)"><circle r="4.6"/><text>50</text></g><g id="p24-51" transform="translate(93.5,-18.6)"><circle r="4.6"/><text>51</text></g><g id="p24-52" transform="translate(-93.5,-18.6)"><circle r="4.6"/><text>52</text></g><g id="p24-53" transform="translate(93.5,18.6)"><circle r="4.6"/><text>53</text></g><g id="p24-54" transform="translate(-93.5,18.6)"><circle r="4.6"/><text>54</text></g><g id="p24-55" transform="translate(79.3,53)"><circle r="4.6"/><text>55</text></g><g id="p24-56" transform="translate(-79.3,53)"><circle r="4.6"/><text>56</text></g><g id="p24-57" transform="translate(53,79.3)"><circle r="4.6"/><text>57</text></g><g id="p24-58" transform="translate(-53,79.3)"><circle r="4.6"/><text>58</text></g><g id="p24-59" transform="translate(18.6,93.5)"><circle r="4.6"/><text>59</text></g><g id="p24-60" transform="translate(-18.6,93.5)"><circle r="4.6"/><text>60</text></g>
</g></g>

<!-- ROW 3 -->
<g id="p31" transform="translate(102.7,712.9)">
<text class="t" y="-119.8">hpHC</text>
<g id="p31-edges"><use href="#E3"/></g>
<g class="n">
<g id="p31-61" transform="translate(25.1,-93.5)"><circle r="4.6"/><text>61</text></g><g id="p31-62" transform="translate(-25.1,-93.5)"><circle r="4.6"/><text>62</text></g><g id="p31-63" transform="translate(68.4,-68.4)"><circle r="4.6"/><text>63</text></g><g id="p31-64" transform="translate(-68.4,-68.4)"><circle r="4.6"/><text>64</text></g><g id="p31-65" transform="translate(93.5,-25.1)"><circle r="4.6"/><text>65</text></g><g id="p31-66" transform="translate(-93.5,-25.1)"><circle r="4.6"/><text>66</text></g><g id="p31-67" transform="translate(93.5,25.1)"><circle r="4.6"/><text>67</text></g><g id="p31-68" transform="translate(-93.5,25.1)"><circle r="4.6"/><text>68</text></g><g id="p31-69" transform="translate(68.4,68.4)"><circle r="4.6"/><text>69</text></g><g id="p31-70" transform="translate(-68.4,68.4)"><circle r="4.6"/><text>70</text></g><g id="p31-71" transform="translate(25.1,93.5)"><circle r="4.6"/><text>71</text></g><g id="p31-72" transform="translate(-25.1,93.5)"><circle r="4.6"/><text>72</text></g>
</g></g>
<g id="p32" transform="translate(400.7,712.9)">
<text class="t" y="-119.8">HC</text>
<g id="p32-edges"><use href="#E3"/></g>
<g class="n">
<g id="p32-61" transform="translate(25.1,-93.5)"><circle r="4.6"/><text>61</text></g><g id="p32-62" transform="translate(-25.1,-93.5)"><circle r="4.6"/><text>62</text></g><g id="p32-63" transform="translate(68.4,-68.4)"><circle r="4.6"/><text>63</text></g><g id="p32-64" transform="translate(-68.4,-68.4)"><circle r="4.6"/><text>64</text></g><g id="p32-65" transform="translate(93.5,-25.1)"><circle r="4.6"/><text>65</text></g><g id="p32-66" transform="translate(-93.5,-25.1)"><circle r="4.6"/><text>66</text></g><g id="p32-67" transform="translate(93.5,25.1)"><circle r="4.6"/><text>67</text></g><g id="p32-68" transform="translate(-93.5,25.1)"><circle r="4.6"/><text>68</text></g><g id="p32-69" transform="translate(68.4,68.4)"><circle r="4.6"/><text>69</text></g><g id="p32-70" transform="translate(-68.4,68.4)"><circle r="4.6"/><text>70</text></g><g id="p32-71" transform="translate(25.1,93.5)"><circle r="4.6"/><text>71</text></g><g id="p32-72" transform="translate(-25.1,93.5)"><circle r="4.6"/><text>72</text></g>
</g></g>
<g id="p33" transform="translate(698.7,712.9)">
<text class="t" y="-119.8">MCI</text>
<g id="p33-edges"><use href="#E3"/></g>
<g class="n">
<g id="p33-61" transform="translate(25.1,-93.5)"><circle r="4.6"/><text>61</text></g><g id="p33-62" transform="translate(-25.1,-93.5)"><circle r="4.6"/><text>62</text></g><g id="p33-63" transform="translate(68.4,-68.4)"><circle r="4.6"/><text>63</text></g><g id="p33-64" transform="translate(-68.4,-68.4)"><circle r="4.6"/><text>64</text></g><g id="p33-65" transform="translate(93.5,-25.1)"><circle r="4.6"/><text>65</text></g><g id="p33-66" transform="translate(-93.5,-25.1)"><circle r="4.6"/><text>66</text></g><g id="p33-67" transform="translate(93.5,25.1)"><circle r="4.6"/><text>67</text></g><g id="p33-68" transform="translate(-93.5,25.1)"><circle r="4.6"/><text>68</text></g><g id="p33-69" transform="translate(68.4,68.4)"><circle r="4.6"/><text>69</text></g><g id="p33-70" transform="translate(-68.4,68.4)"><circle r="4.6"/><text>70</text></g><g id="p33-71" transform="translate(25.1,93.5)"><circle r="4.6"/><text>71</text></g><g id="p33-72" transform="translate(-25.1,93.5)"><circle r="4.6"/><text>72</text></g>
</g></g>
<g id="p34" transform="translate(996.7,712.9)">
<text class="t" y="-119.8">AD</text>
<g id="p34-edges"><use href="#E3"/></g>
<g class="n">
<g id="p34-61" transform="translate(25.1,-93.5)"><circle r="4.6"/><text>61</text></g><g id="p34-62" transform="translate(-25.1,-93.5)"><circle r="4.6"/><text>62</text></g><g id="p34-63" transform="translate(68.4,-68.4)"><circle r="4.6"/><text>63</text></g><g id="p34-64" transform="translate(-68.4,-68.4)"><circle r="4.6"/><text>64</text></g><g id="p34-65" transform="translate(93.5,-25.1)"><circle r="4.6"/><text>65</text></g><g id="p34-66" transform="translate(-93.5,-25.1)"><circle r="4.6"/><text>66</text></g><g id="p34-67" transform="translate(93.5,25.1)"><circle r="4.6"/><text>67</text></g><g id="p34-68" transform="translate(-93.5,25.1)"><circle r="4.6"/><text>68</text></g><g id="p34-69" transform="translate(68.4,68.4)"><circle r="4.6"/><text>69</text></g><g id="p34-70" transform="translate(-68.4,68.4)"><circle r="4.6"/><text>70</text></g><g id="p34-71" transform="translate(25.1,93.5)"><circle r="4.6"/><text>71</text></g><g id="p34-72" transform="translate(-25.1,93.5)"><circle r="4.6"/><text>72</text></g>
</g></g>

<!-- ROW 4 -->
<g id="p41" transform="translate(102.7,1003.65)">
<text class="t" y="-119.8">hpHC</text>
<g id="p41-edges"><use href="#E4"/><line class="b" x1="-53" y1="-79.3" x2="-93.5" y2="-18.6"/><line class="b" x1="-53" y1="-79.3" x2="-53" y2="79.3"/><line class="b" x1="-79.3" y1="53" x2="-53" y2="79.3"/><line class="b" x1="93.5" y1="-18.6" x2="53" y2="79.3"/><line class="b" x1="79.3" y1="53" x2="53" y2="79.3"/></g>
<g class="n">
<g id="p41-73" transform="translate(18.6,-93.5)"><circle r="4.6"/><text>73</text></g><g id="p41-74" transform="translate(-18.6,-93.5)"><circle r="4.6"/><text>74</text></g><g id="p41-75" transform="translate(53,-79.3)"><circle r="4.6"/><text>75</text></g><g id="p41-76" transform="translate(-53,-79.3)"><circle r="4.6"/><text>76</text></g><g id="p41-77" transform="translate(79.3,-53)"><circle r="4.6"/><text>77</text></g><g id="p41-78" transform="translate(-79.3,-53)"><circle r="4.6"/><text>78</text></g><g id="p41-79" transform="translate(93.5,-18.6)"><circle r="4.6"/><text>79</text></g><g id="p41-80" transform="translate(-93.5,-18.6)"><circle r="4.6"/><text>80</text></g><g id="p41-81" transform="translate(93.5,18.6)"><circle r="4.6"/><text>81</text></g><g id="p41-82" transform="translate(-93.5,18.6)"><circle r="4.6"/><text>82</text></g><g id="p41-83" transform="translate(79.3,53)"><circle r="4.6"/><text>83</text></g><g id="p41-84" transform="translate(-79.3,53)"><circle r="4.6"/><text>84</text></g><g id="p41-85" transform="translate(53,79.3)"><circle r="4.6"/><text>85</text></g><g id="p41-86" transform="translate(-53,79.3)"><circle r="4.6"/><text>86</text></g><g id="p41-87" transform="translate(18.6,93.5)"><circle r="4.6"/><text>87</text></g><g id="p41-88" transform="translate(-18.6,93.5)"><circle r="4.6"/><text>88</text></g>
</g></g>
<g id="p42" transform="translate(400.7,1003.65)">
<text class="t" y="-119.8">HC</text>
<g id="p42-edges"><use href="#E4"/><line class="b" x1="-53" y1="-79.3" x2="-53" y2="79.3"/><line class="b" x1="-79.3" y1="53" x2="-53" y2="79.3"/><line class="b" x1="93.5" y1="-18.6" x2="53" y2="79.3"/><line class="b" x1="79.3" y1="53" x2="53" y2="79.3"/></g>
<g class="n">
<g id="p42-73" transform="translate(18.6,-93.5)"><circle r="4.6"/><text>73</text></g><g id="p42-74" transform="translate(-18.6,-93.5)"><circle r="4.6"/><text>74</text></g><g id="p42-75" transform="translate(53,-79.3)"><circle r="4.6"/><text>75</text></g><g id="p42-76" transform="translate(-53,-79.3)"><circle r="4.6"/><text>76</text></g><g id="p42-77" transform="translate(79.3,-53)"><circle r="4.6"/><text>77</text></g><g id="p42-78" transform="translate(-79.3,-53)"><circle r="4.6"/><text>78</text></g><g id="p42-79" transform="translate(93.5,-18.6)"><circle r="4.6"/><text>79</text></g><g id="p42-80" transform="translate(-93.5,-18.6)"><circle r="4.6"/><text>80</text></g><g id="p42-81" transform="translate(93.5,18.6)"><circle r="4.6"/><text>81</text></g><g id="p42-82" transform="translate(-93.5,18.6)"><circle r="4.6"/><text>82</text></g><g id="p42-83" transform="translate(79.3,53)"><circle r="4.6"/><text>83</text></g><g id="p42-84" transform="translate(-79.3,53)"><circle r="4.6"/><text>84</text></g><g id="p42-85" transform="translate(53,79.3)"><circle r="4.6"/><text>85</text></g><g id="p42-86" transform="translate(-53,79.3)"><circle r="4.6"/><text>86</text></g><g id="p42-87" transform="translate(18.6,93.5)"><circle r="4.6"/><text>87</text></g><g id="p42-88" transform="translate(-18.6,93.5)"><circle r="4.6"/><text>88</text></g>
</g></g>
<g id="p43" transform="translate(698.7,1003.65)">
<text class="t" y="-119.8">MCI</text>
<g id="p43-edges"><use href="#E4"/><line class="b" x1="-53" y1="-79.3" x2="-93.5" y2="-18.6"/><line class="b" x1="-53" y1="-79.3" x2="-53" y2="79.3"/></g>
<g class="n">
<g id="p43-73" transform="translate(18.6,-93.5)"><circle r="4.6"/><text>73</text></g><g id="p43-74" transform="translate(-18.6,-93.5)"><circle r="4.6"/><text>74</text></g><g id="p43-75" transform="translate(53,-79.3)"><circle r="4.6"/><text>75</text></g><g id="p43-76" transform="translate(-53,-79.3)"><circle r="4.6"/><text>76</text></g><g id="p43-77" transform="translate(79.3,-53)"><circle r="4.6"/><text>77</text></g><g id="p43-78" transform="translate(-79.3,-53)"><circle r="4.6"/><text>78</text></g><g id="p43-79" transform="translate(93.5,-18.6)"><circle r="4.6"/><text>79</text></g><g id="p43-80" transform="translate(-93.5,-18.6)"><circle r="4.6"/><text>80</text></g><g id="p43-81" transform="translate(93.5,18.6)"><circle r="4.6"/><text>81</text></g><g id="p43-82" transform="translate(-93.5,18.6)"><circle r="4.6"/><text>82</text></g><g id="p43-83" transform="translate(79.3,53)"><circle r="4.6"/><text>83</text></g><g id="p43-84" transform="translate(-79.3,53)"><circle r="4.6"/><text>84</text></g><g id="p43-85" transform="translate(53,79.3)"><circle r="4.6"/><text>85</text></g><g id="p43-86" transform="translate(-53,79.3)"><circle r="4.6"/><text>86</text></g><g id="p43-87" transform="translate(18.6,93.5)"><circle r="4.6"/><text>87</text></g><g id="p43-88" transform="translate(-18.6,93.5)"><circle r="4.6"/><text>88</text></g>
</g></g>
<g id="p44" transform="translate(996.7,1003.65)">
<text class="t" y="-119.8">AD</text>
<g id="p44-edges"><use href="#E4"/><line class="b" x1="79.3" y1="53" x2="53" y2="79.3"/><line class="r" x1="53" y1="-79.3" x2="93.5" y2="-18.6"/></g>
<g class="n">
<g id="p44-73" transform="translate(18.6,-93.5)"><circle r="4.6"/><text>73</text></g><g id="p44-74" transform="translate(-18.6,-93.5)"><circle r="4.6"/><text>74</text></g><g id="p44-75" transform="translate(53,-79.3)"><circle r="4.6"/><text>75</text></g><g id="p44-76" transform="translate(-53,-79.3)"><circle r="4.6"/><text>76</text></g><g id="p44-77" transform="translate(79.3,-53)"><circle r="4.6"/><text>77</text></g><g id="p44-78" transform="translate(-79.3,-53)"><circle r="4.6"/><text>78</text></g><g id="p44-79" transform="translate(93.5,-18.6)"><circle r="4.6"/><text>79</text></g><g id="p44-80" transform="translate(-93.5,-18.6)"><circle r="4.6"/><text>80</text></g><g id="p44-81" transform="translate(93.5,18.6)"><circle r="4.6"/><text>81</text></g><g id="p44-82" transform="translate(-93.5,18.6)"><circle r="4.6"/><text>82</text></g><g id="p44-83" transform="translate(79.3,53)"><circle r="4.6"/><text>83</text></g><g id="p44-84" transform="translate(-79.3,53)"><circle r="4.6"/><text>84</text></g><g id="p44-85" transform="translate(53,79.3)"><circle r="4.6"/><text>85</text></g><g id="p44-86" transform="translate(-53,79.3)"><circle r="4.6"/><text>86</text></g><g id="p44-87" transform="translate(18.6,93.5)"><circle r="4.6"/><text>87</text></g><g id="p44-88" transform="translate(-18.6,93.5)"><circle r="4.6"/><text>88</text></g>
</g></g>

<!-- ROW 5 -->
<g id="p51" transform="translate(102.7,1294.4)">
<text class="t" y="-119.8">hpHC</text>
<g id="p51-edges"><use href="#E5"/><line class="b" x1="-68.4" y1="-68.4" x2="-93.5" y2="-25.1"/></g>
<g class="n">
<g id="p51-89" transform="translate(25.1,-93.5)"><circle r="4.6"/><text>89</text></g><g id="p51-90" transform="translate(-25.1,-93.5)"><circle r="4.6"/><text>90</text></g><g id="p51-91" transform="translate(68.4,-68.4)"><circle r="4.6"/><text>91</text></g><g id="p51-92" transform="translate(-68.4,-68.4)"><circle r="4.6"/><text>92</text></g><g id="p51-93" transform="translate(93.5,-25.1)"><circle r="4.6"/><text>93</text></g><g id="p51-94" transform="translate(-93.5,-25.1)"><circle r="4.6"/><text>94</text></g><g id="p51-95" transform="translate(93.5,25.1)"><circle r="4.6"/><text>95</text></g><g id="p51-96" transform="translate(-93.5,25.1)"><circle r="4.6"/><text>96</text></g><g id="p51-97" transform="translate(68.4,68.4)"><circle r="4.6"/><text>97</text></g><g id="p51-98" transform="translate(-68.4,68.4)"><circle r="4.6"/><text>98</text></g><g id="p51-99" transform="translate(25.1,93.5)"><circle r="4.6"/><text>99</text></g><g id="p51-100" transform="translate(-25.1,93.5)"><circle r="4.6"/><text>100</text></g>
</g></g>
<g id="p52" transform="translate(400.7,1294.4)">
<text class="t" y="-119.8">HC</text>
<g id="p52-edges"><use href="#E5"/><line class="b" x1="-68.4" y1="-68.4" x2="-93.5" y2="-25.1"/><line class="b" x1="93.5" y1="25.1" x2="68.4" y2="68.4"/></g>
<g class="n">
<g id="p52-89" transform="translate(25.1,-93.5)"><circle r="4.6"/><text>89</text></g><g id="p52-90" transform="translate(-25.1,-93.5)"><circle r="4.6"/><text>90</text></g><g id="p52-91" transform="translate(68.4,-68.4)"><circle r="4.6"/><text>91</text></g><g id="p52-92" transform="translate(-68.4,-68.4)"><circle r="4.6"/><text>92</text></g><g id="p52-93" transform="translate(93.5,-25.1)"><circle r="4.6"/><text>93</text></g><g id="p52-94" transform="translate(-93.5,-25.1)"><circle r="4.6"/><text>94</text></g><g id="p52-95" transform="translate(93.5,25.1)"><circle r="4.6"/><text>95</text></g><g id="p52-96" transform="translate(-93.5,25.1)"><circle r="4.6"/><text>96</text></g><g id="p52-97" transform="translate(68.4,68.4)"><circle r="4.6"/><text>97</text></g><g id="p52-98" transform="translate(-68.4,68.4)"><circle r="4.6"/><text>98</text></g><g id="p52-99" transform="translate(25.1,93.5)"><circle r="4.6"/><text>99</text></g><g id="p52-100" transform="translate(-25.1,93.5)"><circle r="4.6"/><text>100</text></g>
</g></g>
<g id="p53" transform="translate(698.7,1294.4)">
<text class="t" y="-119.8">MCI</text>
<g id="p53-edges"><use href="#E5"/></g>
<g class="n">
<g id="p53-89" transform="translate(25.1,-93.5)"><circle r="4.6"/><text>89</text></g><g id="p53-90" transform="translate(-25.1,-93.5)"><circle r="4.6"/><text>90</text></g><g id="p53-91" transform="translate(68.4,-68.4)"><circle r="4.6"/><text>91</text></g><g id="p53-92" transform="translate(-68.4,-68.4)"><circle r="4.6"/><text>92</text></g><g id="p53-93" transform="translate(93.5,-25.1)"><circle r="4.6"/><text>93</text></g><g id="p53-94" transform="translate(-93.5,-25.1)"><circle r="4.6"/><text>94</text></g><g id="p53-95" transform="translate(93.5,25.1)"><circle r="4.6"/><text>95</text></g><g id="p53-96" transform="translate(-93.5,25.1)"><circle r="4.6"/><text>96</text></g><g id="p53-97" transform="translate(68.4,68.4)"><circle r="4.6"/><text>97</text></g><g id="p53-98" transform="translate(-68.4,68.4)"><circle r="4.6"/><text>98</text></g><g id="p53-99" transform="translate(25.1,93.5)"><circle r="4.6"/><text>99</text></g><g id="p53-100" transform="translate(-25.1,93.5)"><circle r="4.6"/><text>100</text></g>
</g></g>
<g id="p54" transform="translate(996.7,1294.4)">
<text class="t" y="-119.8">AD</text>
<g id="p54-edges"><use href="#E5"/><line class="b" x1="93.5" y1="25.1" x2="68.4" y2="68.4"/><line class="r" x1="-68.4" y1="68.4" x2="-25.1" y2="93.5"/></g>
<g class="n">
<g id="p54-89" transform="translate(25.1,-93.5)"><circle r="4.6"/><text>89</text></g><g id="p54-90" transform="translate(-25.1,-93.5)"><circle r="4.6"/><text>90</text></g><g id="p54-91" transform="translate(68.4,-68.4)"><circle r="4.6"/><text>91</text></g><g id="p54-92" transform="translate(-68.4,-68.4)"><circle r="4.6"/><text>92</text></g><g id="p54-93" transform="translate(93.5,-25.1)"><circle r="4.6"/><text>93</text></g><g id="p54-94" transform="translate(-93.5,-25.1)"><circle r="4.6"/><text>94</text></g><g id="p54-95" transform="translate(93.5,25.1)"><circle r="4.6"/><text>95</text></g><g id="p54-96" transform="translate(-93.5,25.1)"><circle r="4.6"/><text>96</text></g><g id="p54-97" transform="translate(68.4,68.4)"><circle r="4.6"/><text>97</text></g><g id="p54-98" transform="translate(-68.4,68.4)"><circle r="4.6"/><text>98</text></g><g id="p54-99" transform="translate(25.1,93.5)"><circle r="4.6"/><text>99</text></g><g id="p54-100" transform="translate(-25.1,93.5)"><circle r="4.6"/><text>100</text></g>
</g></g>
</svg>
